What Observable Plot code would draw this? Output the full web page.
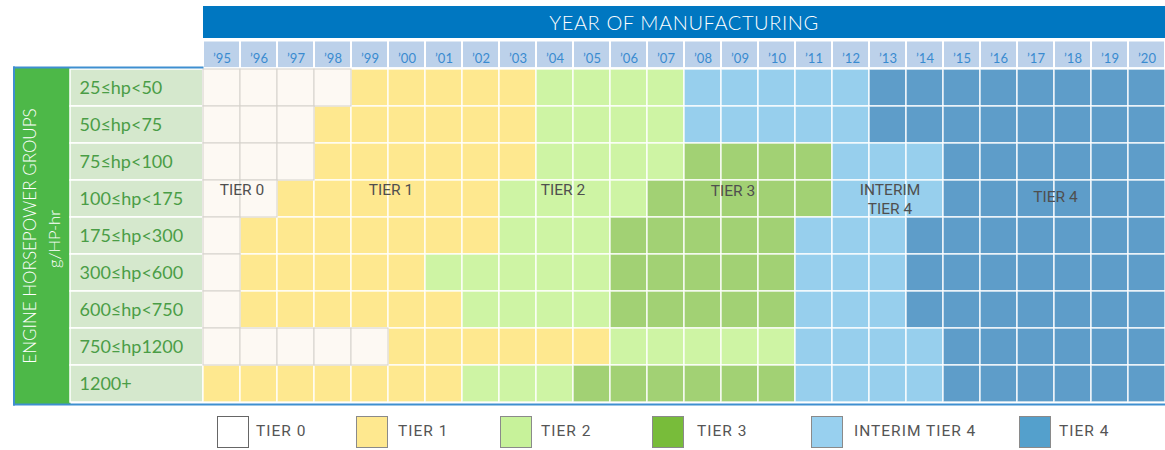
<!DOCTYPE html>
<html>
<head>
<meta charset="utf-8">
<script src="https://cdn.jsdelivr.net/npm/d3@7"></script>
<script src="https://cdn.jsdelivr.net/npm/@observablehq/plot@0.6"></script>
<style>
  html, body { margin: 0; padding: 0; background: white; }
  #wrap { position: relative; width: 1165px; height: 450px; overflow: hidden; }
  #chart { position: absolute; left: 0; top: 0; }
  #title { position: absolute; left: 203px; top: 6px; width: 962px; height: 32px; background: #0077c1;
           color: white; font-family: Lato, sans-serif; font-weight: 300; font-size: 20px; letter-spacing: 0.6px;
           text-align: center; line-height: 33px; z-index: 2; }
  .lg-sw { position: absolute; top: 416px; width: 30px; height: 30px; border: 1.5px solid #8a8a8a; box-sizing: content-box; }
  .lg-tx { position: absolute; top: 422px; font-family: Roboto, sans-serif; font-size: 15.5px; letter-spacing: 1px;
           color: #555; line-height: 18px; white-space: nowrap; }
</style>
</head>
<body>
<div id="wrap">
  <div id="chart"></div>
  <div id="title">YEAR OF MANUFACTURING</div>
  <div id="legend"></div>
</div>
<script>
// ---------- data ----------
const years = ["’95","’96","’97","’98","’99","’00","’01","’02","’03","’04","’05","’06","’07",
               "’08","’09","’10","’11","’12","’13","’14","’15","’16","’17","’18","’19","’20"];
const groups = ["25≤hp<50","50≤hp<75","75≤hp<100","100≤hp<175","175≤hp<300",
                "300≤hp<600","600≤hp<750","750≤hp1200","1200+"];
const tiers = ["TIER 0","TIER 1","TIER 2","TIER 3","INTERIM TIER 4","TIER 4"];
// tier index per year for each horsepower group (0 = Tier 0 ... 5 = Tier 4)
const tierByYear = [
  "00001111122224444455555555",
  "00011111122224444455555555",
  "00011111122223333444555555",
  "00111111222233333444555555",
  "01111111222333334445555555",
  "01111122222333334445555555",
  "01111112222333334445555555",
  "00000111111222224444555555",
  "11111112223333334444555555"
];
const tierLabels = ["TIER 0","TIER 1","TIER 2","TIER 3","INTERIM\nTIER 4","TIER 4"];
const tierLabelYears = ["’96","’00","’04","’09","’13","’17"];
const labelGroup = "100≤hp<175";
const axisTitle = "ENGINE HORSEPOWER GROUPS";
const unitTitle = "g/HP-hr";

// ---------- styles ----------
const cellColors = ["#fdf9f3","#fee88f","#cef4a4","#a2d174","#97cfed","#5e9dc9"];
const legendColors = ["#ffffff","#fee88f","#c7f29a","#78bc3a","#98d0ef","#54a0cc"];
const labelOffsets = [[-17,-10],[-16,-10],[8,-10],[-7,-9],[2,-1],[19.5,-3.5]];
const legendLeft = [217, 356, 500, 652, 811, 1019];
const legendTextLeft = [256, 398, 541, 697, 854, 1059];
const blue = "#3f8fd0";

const cells = groups.flatMap((g, r) =>
  years.map((y, c) => ({group: g, year: y, tier: tiers[+tierByYear[r][c]]})));

const plot = Plot.plot({
  width: 1165, height: 408,
  marginTop: 67, marginBottom: 4, marginLeft: 203, marginRight: 0,
  x: {type: "band", domain: years, padding: 0, axis: null},
  y: {type: "band", domain: groups, padding: 0, axis: null},
  color: {domain: tiers, range: cellColors},
  style: {background: "transparent", fontFamily: "Lato, sans-serif"},
  marks: [
    // year header cells
    Plot.cell(years, {x: d => d, y: () => groups[0], fill: "#bcd1ea",
      insetTop: -27.5, insetBottom: 38.9, insetLeft: 1, insetRight: 1}),
    Plot.text(years, {x: d => d, text: d => d, frameAnchor: "top", dy: -14,
      fill: "#3a8bd0", fontSize: 13}),
    // left panel
    Plot.frame({fill: "#4db848", stroke: "none", insetLeft: -190, insetRight: 1095}),
    Plot.cell(groups, {y: d => d, fill: "#d5e8cd", stroke: "white", strokeWidth: 1.5,
      insetLeft: -133, insetRight: 962}),
    Plot.text(groups, {y: d => d, text: d => d, frameAnchor: "left", textAnchor: "start",
      dx: -124, fill: "#4a9d46", fontSize: 18}),
    Plot.text([axisTitle], {text: d => d, frameAnchor: "left", textAnchor: "middle", dx: -173, rotate: -90,
      fill: "white", fontSize: 17, fontWeight: 300, letterSpacing: "0.3px"}),
    Plot.text([unitTitle], {text: d => d, frameAnchor: "left", textAnchor: "middle", dx: -149, dy: 3, rotate: -90,
      fill: "white", fontSize: 16.5, fontWeight: 300}),
    // grid cells
    Plot.cell(cells, {x: "year", y: "group", fill: "tier", stroke: "white", strokeWidth: 1.5, strokeOpacity: 0.85}),
    Plot.cell(cells.filter(d => d.tier === tiers[0]), {x: "year", y: "group", fill: "tier",
      stroke: "#d5d2cc", strokeWidth: 1}),
    // tier labels
    ...tierLabels.map((t, i) => Plot.text([t], {x: () => tierLabelYears[i], y: () => labelGroup,
      text: d => d, dx: labelOffsets[i][0], dy: labelOffsets[i][1], fill: "#4f4f4f",
      fontFamily: "Roboto, sans-serif", fontSize: 15.5, letterSpacing: "1px", lineHeight: 1.24})),
    // blue borders
    Plot.frame({fill: blue, stroke: "none", insetLeft: -190.5, insetRight: 962, insetTop: -1, insetBottom: 336}),
    Plot.frame({fill: blue, stroke: "none", insetLeft: -190.5, insetRight: 1150.5, insetTop: -1, insetBottom: -1}),
    Plot.frame({fill: blue, stroke: "none", insetLeft: -190.5, insetTop: 336, insetBottom: -1})
  ]
});
document.getElementById("chart").appendChild(plot);

// legend
const legend = document.getElementById("legend");
tiers.forEach((t, i) => {
  const sw = document.createElement("div");
  sw.className = "lg-sw";
  sw.style.left = legendLeft[i] + "px";
  sw.style.background = legendColors[i];
  if (i === 0) sw.style.borderColor = "#666";
  legend.appendChild(sw);
  const tx = document.createElement("div");
  tx.className = "lg-tx";
  tx.style.left = legendTextLeft[i] + "px";
  tx.textContent = t;
  legend.appendChild(tx);
});
</script>
</body>
</html>
